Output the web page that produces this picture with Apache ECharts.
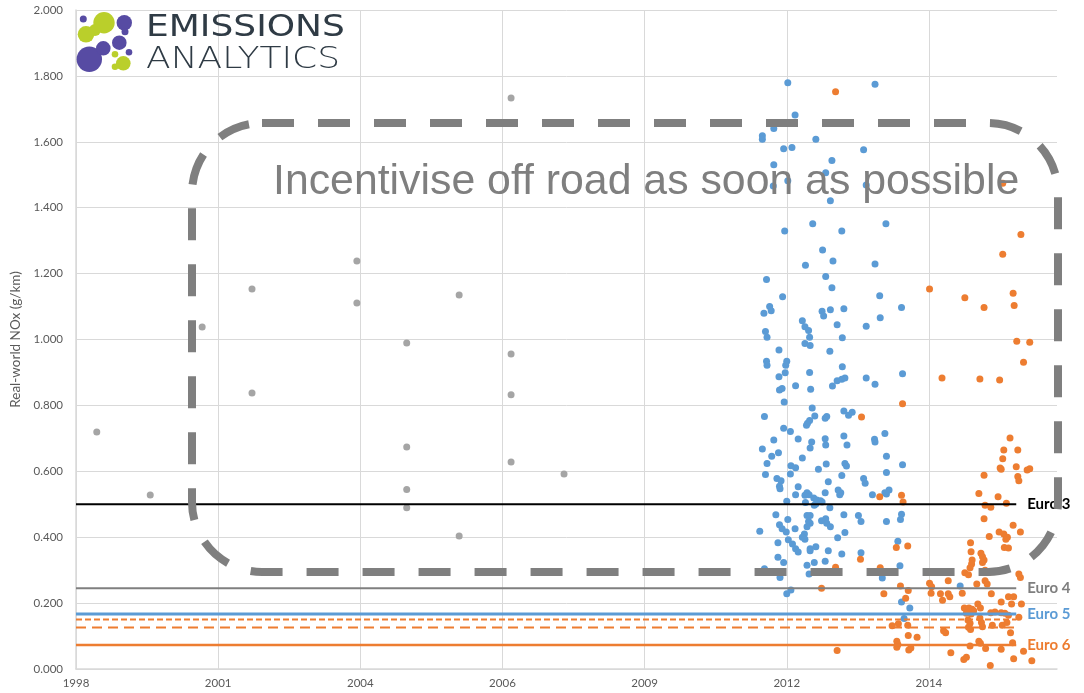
<!DOCTYPE html>
<html><head><meta charset="utf-8">
<script src="https://cdn.jsdelivr.net/npm/echarts@6/dist/echarts.min.js"></script>
<style>html,body{margin:0;padding:0;background:#fff}#c{width:1084px;height:693px}</style>
</head><body><div id="c"></div>
<script>
// ---- data ----
const xRange = [1998.54, 2017.435];
const xTickValues = [1998.54, 2001.278, 2004.016, 2006.754, 2009.492, 2012.23, 2014.968];
const xTickLabels = ['1998', '2001', '2004', '2006', '2009', '2012', '2014'];
const yRange = [0, 2];
const yInterval = 0.2;

const euroNames = ['Euro 3', 'Euro 4', 'Euro 5', 'Euro 6'];
const euroValues = [0.5, 0.245, 0.167, 0.073];
const dashedValues = [0.150, 0.126];
const limitLineEnd = 2016.65;

const greyPoints = [[1998.94,0.719],[1999.97,0.528],[2000.97,1.038],[2001.93,1.153],[2001.93,0.838],[2003.95,1.238],[2003.95,1.111],[2004.91,0.989],[2004.91,0.674],[2004.91,0.545],[2004.91,0.489],[2005.92,1.135],[2005.92,0.404],[2006.92,1.733],[2006.92,0.956],[2006.92,0.832],[2006.92,0.628],[2007.94,0.592]];

const bluePoints = [[2012.25,1.779],[2013.93,1.775],[2012.39,1.681],[2011.98,1.640],[2011.76,1.618],[2011.76,1.608],[2012.79,1.608],[2012.17,1.579],[2012.33,1.583],[2013.71,1.576],[2013.10,1.543],[2011.98,1.530],[2012.98,1.506],[2012.25,1.482],[2011.97,1.466],[2013.76,1.469],[2013.07,1.421],[2012.73,1.351],[2014.14,1.351],[2012.19,1.329],[2013.29,1.329],[2012.92,1.272],[2012.59,1.225],[2013.12,1.238],[2013.93,1.229],[2012.98,1.191],[2011.84,1.182],[2013.10,1.157],[2012.15,1.130],[2014.02,1.133],[2011.90,1.100],[2011.93,1.087],[2011.79,1.080],[2012.91,1.086],[2012.94,1.071],[2013.07,1.090],[2013.33,1.093],[2014.44,1.097],[2012.53,1.057],[2012.58,1.039],[2012.65,1.027],[2013.20,1.045],[2013.76,1.040],[2014.03,1.066],[2011.82,1.024],[2011.85,1.007],[2012.67,1.007],[2013.30,1.005],[2012.58,0.988],[2012.68,0.982],[2012.08,0.968],[2013.06,0.964],[2011.84,0.934],[2011.85,0.922],[2012.23,0.934],[2012.21,0.922],[2012.20,0.899],[2013.30,0.917],[2012.08,0.887],[2012.67,0.900],[2014.46,0.896],[2013.76,0.883],[2013.93,0.864],[2013.20,0.875],[2013.29,0.879],[2013.35,0.883],[2013.11,0.859],[2012.40,0.860],[2012.09,0.847],[2012.14,0.851],[2012.69,0.849],[2012.18,0.810],[2011.80,0.766],[2012.72,0.792],[2013.33,0.783],[2013.42,0.770],[2013.49,0.779],[2012.77,0.768],[2012.63,0.746],[2012.61,0.740],[2012.67,0.754],[2012.97,0.761],[2013.00,0.766],[2012.17,0.731],[2012.30,0.721],[2011.98,0.695],[2012.45,0.698],[2012.71,0.689],[2012.68,0.671],[2012.97,0.699],[2012.98,0.680],[2013.33,0.707],[2013.39,0.680],[2013.93,0.689],[2013.92,0.697],[2014.12,0.715],[2014.15,0.646],[2014.46,0.620],[2011.76,0.668],[2011.94,0.646],[2012.07,0.656],[2011.85,0.624],[2011.82,0.590],[2012.53,0.640],[2012.31,0.617],[2012.40,0.611],[2012.30,0.592],[2012.84,0.606],[2012.99,0.622],[2013.35,0.624],[2013.38,0.616],[2014.15,0.596],[2013.29,0.587],[2012.04,0.578],[2012.12,0.571],[2012.09,0.555],[2012.10,0.547],[2013.71,0.578],[2013.74,0.564],[2013.03,0.568],[2012.45,0.553],[2013.22,0.543],[2013.25,0.529],[2013.27,0.535],[2012.97,0.535],[2012.62,0.535],[2012.66,0.529],[2012.58,0.527],[2012.40,0.529],[2013.88,0.529],[2014.15,0.531],[2014.20,0.543],[2014.12,0.535],[2012.23,0.509],[2012.75,0.519],[2012.81,0.513],[2012.88,0.511],[2012.91,0.507],[2012.79,0.501],[2012.59,0.505],[2012.76,0.497],[2013.06,0.489],[2012.02,0.468],[2012.25,0.454],[2012.62,0.466],[2012.68,0.466],[2012.65,0.448],[2012.68,0.442],[2012.90,0.450],[2012.98,0.456],[2013.00,0.442],[2013.07,0.432],[2013.33,0.468],[2013.61,0.466],[2013.66,0.448],[2014.15,0.448],[2014.44,0.470],[2014.42,0.454],[2011.71,0.418],[2012.09,0.438],[2012.14,0.426],[2012.22,0.416],[2012.39,0.426],[2012.62,0.432],[2012.57,0.410],[2012.53,0.400],[2012.58,0.394],[2013.35,0.414],[2013.21,0.398],[2012.06,0.383],[2012.26,0.392],[2012.34,0.379],[2012.40,0.365],[2012.45,0.355],[2012.68,0.365],[2012.79,0.371],[2012.68,0.359],[2013.03,0.359],[2013.29,0.349],[2013.66,0.353],[2014.37,0.388],[2012.06,0.339],[2012.17,0.323],[2012.62,0.315],[2012.76,0.323],[2012.97,0.327],[2011.80,0.304],[2012.10,0.278],[2012.66,0.288],[2014.07,0.276],[2014.41,0.313],[2012.23,0.228],[2012.31,0.240],[2014.44,0.203],[2014.60,0.185],[2014.49,0.153],[2015.57,0.252]];

const orangePoints = [[2013.17,1.752],[2013.67,0.765],[2014.46,0.805],[2014.02,0.523],[2014.44,0.527],[2014.47,0.507],[2013.65,0.333],[2014.34,0.369],[2014.56,0.373],[2013.17,0.309],[2014.03,0.307],[2012.90,0.245],[2014.10,0.228],[2014.42,0.252],[2014.57,0.238],[2014.52,0.215],[2014.26,0.131],[2014.38,0.137],[2014.56,0.133],[2014.57,0.102],[2014.35,0.084],[2014.37,0.074],[2014.35,0.066],[2014.58,0.058],[2014.62,0.064],[2013.20,0.056],[2016.39,1.474],[2016.74,1.319],[2016.39,1.259],[2014.98,1.153],[2015.66,1.127],[2016.03,1.097],[2016.59,1.140],[2016.61,1.103],[2016.66,0.995],[2016.91,0.992],[2016.79,0.931],[2015.22,0.883],[2015.95,0.880],[2016.33,0.877],[2016.53,0.701],[2016.41,0.665],[2016.68,0.665],[2016.39,0.638],[2016.34,0.610],[2016.36,0.606],[2016.65,0.614],[2016.86,0.604],[2016.91,0.608],[2016.68,0.584],[2016.70,0.571],[2016.03,0.588],[2015.93,0.533],[2016.05,0.497],[2016.16,0.491],[2016.30,0.523],[2016.46,0.503],[2016.03,0.456],[2016.59,0.436],[2016.73,0.416],[2016.32,0.416],[2016.41,0.410],[2016.45,0.394],[2016.48,0.400],[2016.13,0.402],[2016.42,0.369],[2016.50,0.367],[2015.77,0.383],[2015.78,0.356],[2015.80,0.331],[2015.79,0.319],[2015.76,0.307],[2015.66,0.292],[2015.73,0.286],[2015.97,0.351],[2016.00,0.341],[2016.03,0.331],[2016.00,0.323],[2016.05,0.300],[2016.13,0.294],[2015.89,0.258],[2016.05,0.268],[2016.09,0.258],[2016.70,0.288],[2016.73,0.278],[2014.98,0.260],[2015.01,0.230],[2015.02,0.250],[2015.34,0.268],[2015.19,0.228],[2015.23,0.209],[2015.34,0.228],[2015.37,0.219],[2015.61,0.230],[2016.17,0.228],[2016.36,0.203],[2016.50,0.219],[2016.56,0.197],[2016.60,0.219],[2016.75,0.197],[2015.91,0.197],[2015.65,0.185],[2015.69,0.181],[2015.74,0.185],[2015.80,0.181],[2015.69,0.169],[2015.78,0.167],[2015.83,0.177],[2015.96,0.185],[2016.16,0.171],[2016.24,0.173],[2016.36,0.171],[2016.43,0.169],[2016.50,0.163],[2016.70,0.157],[2015.72,0.149],[2015.76,0.139],[2015.73,0.127],[2015.77,0.120],[2015.95,0.155],[2015.98,0.141],[2016.00,0.128],[2016.19,0.133],[2016.38,0.133],[2016.47,0.141],[2016.54,0.110],[2015.29,0.110],[2015.25,0.116],[2014.74,0.096],[2015.93,0.084],[2015.96,0.078],[2015.76,0.070],[2016.06,0.062],[2016.36,0.060],[2016.58,0.080],[2015.39,0.049],[2015.64,0.029],[2015.69,0.036],[2016.60,0.031],[2016.79,0.054],[2016.95,0.025],[2016.15,0.011]];

// ---- styles ----
const FONT = 'Lato';
const BLUE = '#5B9BD5', ORANGE = '#ED7D31', GREY = '#A5A5A5';
const euroColors = ['#000000', '#7F7F7F', BLUE, ORANGE];
const euroWidths = [2, 2, 3, 2.5];
const dashedTypes = [[6, 3], [10, 6]];

const chart = echarts.init(document.getElementById('c'), null, {renderer: 'canvas'});

const series = [
  {type: 'scatter', data: greyPoints, symbolSize: 7, itemStyle: {color: GREY, opacity: 1}, z: 2},
  {type: 'scatter', data: bluePoints, symbolSize: 7, itemStyle: {color: BLUE, opacity: 1}, z: 3},
  {type: 'scatter', data: orangePoints, symbolSize: 7, itemStyle: {color: ORANGE, opacity: 1}, z: 4}
];
euroValues.forEach((v, i) => {
  series.push({
    type: 'line', name: euroNames[i], data: [[xRange[0], v], [limitLineEnd, v]],
    symbol: 'none', silent: true, z: 5,
    lineStyle: {color: euroColors[i], width: euroWidths[i], type: 'solid'},
    endLabel: {show: true, formatter: euroNames[i], color: euroColors[i], fontFamily: FONT,
      fontWeight: 'bold', fontSize: 15, distance: 11}
  });
});
dashedValues.forEach((v, i) => {
  series.push({
    type: 'line', data: [[xRange[0], v], [limitLineEnd, v]], symbol: 'none', silent: true, z: 5,
    lineStyle: {color: ORANGE, width: 2, type: dashedTypes[i]}
  });
});

const logoCircles = [
  [83.3, 19, 3.5, 'p'], [104, 22.7, 10.7, 'l'], [95, 30, 6, 'l'], [86, 34.3, 8.3, 'l'],
  [124.3, 22.7, 7.7, 'p'], [125, 31.7, 3.5, 'p'], [89.3, 59.3, 12.7, 'p'], [103.3, 48.3, 7.3, 'p'],
  [119.3, 42.7, 7.3, 'p'], [129, 52.3, 3.3, 'p'], [115, 54.3, 3.3, 'l'], [123.3, 63.3, 7.3, 'l'],
  [115, 66.7, 3.3, 'l']
];
const graphics = logoCircles.map(c => ({
  type: 'circle', shape: {cx: c[0], cy: c[1], r: c[2]},
  style: {fill: c[3] === 'p' ? '#574BA3' : '#BACF2B'}, z: 50, silent: true
}));
graphics.push({type: 'text', x: 146, y: 28, scaleX: 1.2, z: 50, silent: true,
  style: {text: 'EMISSIONS', fontFamily: 'DejaVu Sans', fontSize: 30, fontWeight: 500, fill: '#2F3B45', verticalAlign: 'middle'}});
graphics.push({type: 'text', x: 146, y: 60, scaleX: 1.2, z: 50, silent: true,
  style: {text: 'ANALYTICS', fontFamily: 'DejaVu Sans', fontSize: 30, fontWeight: 200, fill: '#2F3B45', verticalAlign: 'middle'}});
graphics.push({type: 'rect', z: 60, silent: true,
  shape: {x: 192, y: 123, width: 866, height: 449, r: 70},
  style: {fill: 'none', stroke: '#7F7F7F', lineWidth: 8, lineDash: [32, 24]}});
graphics.push({type: 'text', x: 273, y: 182, z: 60, silent: true,
  style: {text: 'Incentivise off road as soon as possible', fontFamily: 'Liberation Sans', fontSize: 42.8, fill: '#7F7F7F', verticalAlign: 'middle'}});

chart.setOption({
  animation: false,
  backgroundColor: '#ffffff',
  grid: {left: 76, right: 27, top: 10, bottom: 24, containLabel: false},
  xAxis: {
    type: 'value', min: xRange[0], max: xRange[1],
    axisLine: {show: true, lineStyle: {color: '#D9D9D9', width: 1.5}},
    axisTick: {show: false, customValues: xTickValues},
    axisLabel: {customValues: xTickValues, color: '#595959', fontFamily: FONT, fontSize: 11.5, margin: 8,
      formatter: v => { const i = xTickValues.findIndex(t => Math.abs(t - v) < 1e-6); return i >= 0 ? xTickLabels[i] : ''; }},
    splitLine: {show: true, lineStyle: {color: '#D9D9D9', width: 1}}
  },
  yAxis: {
    type: 'value', min: yRange[0], max: yRange[1], interval: yInterval,
    name: 'Real-world NOx (g/km)', nameLocation: 'middle', nameGap: 51,
    nameTextStyle: {color: '#595959', fontFamily: FONT, fontSize: 13.5},
    axisLine: {show: true, lineStyle: {color: '#D9D9D9', width: 1.5}},
    axisTick: {show: false},
    axisLabel: {color: '#595959', fontFamily: FONT, fontSize: 11.5, margin: 13, formatter: v => v.toFixed(3)},
    splitLine: {show: true, lineStyle: {color: '#D9D9D9', width: 1}}
  },
  series: series,
  graphic: graphics
});
</script></body></html>
